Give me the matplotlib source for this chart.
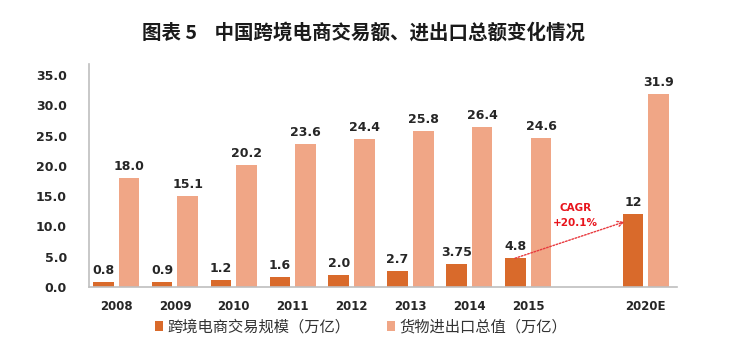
import matplotlib
matplotlib.use("Agg")
import matplotlib.pyplot as plt

years = ["2008", "2009", "2010", "2011", "2012", "2013", "2014", "2015", "2020E"]
positions = [0, 1, 2, 3, 4, 5, 6, 7, 9]
cross_border = [0.8, 0.9, 1.2, 1.6, 2.0, 2.7, 3.75, 4.8, 12]
cross_border_labels = ["0.8", "0.9", "1.2", "1.6", "2.0", "2.7", "3.75", "4.8", "12"]
trade_total = [18.0, 15.1, 20.2, 23.6, 24.4, 25.8, 26.4, 24.6, 31.9]
trade_labels = ["18.0", "15.1", "20.2", "23.6", "24.4", "25.8", "26.4", "24.6", "31.9"]
yticks = [0, 5, 10, 15, 20, 25, 30, 35]
series_names = ["跨境电商交易规模（万亿）", "货物进出口总值（万亿）"]
title = "图表 5    中国跨境电商交易额、进出口总额变化情况"
cagr_text = "CAGR\n+20.1%"

plt.rcParams['font.family'] = ['DejaVu Sans', 'Noto Sans CJK SC']

dark = '#D96A2B'
light = '#F0A686'
bw = 0.35
off = 0.218

fig = plt.figure(figsize=(7.5, 3.5), dpi=100)
ax = fig.add_axes([0.1187, 0.18, 0.9027 - 0.1187, 0.817 - 0.18])

xd = [p - off for p in positions]
xl = [p + off for p in positions]
ax.bar(xd, cross_border, width=bw, color=dark, label=series_names[0], zorder=2)
ax.bar(xl, trade_total, width=bw, color=light, label=series_names[1], zorder=2)

for x, v, s in zip(xd, cross_border, cross_border_labels):
    ax.text(x, v + 0.8, s, ha='center', va='bottom', fontsize=9, fontweight='bold', color='#262626')
for x, v, s in zip(xl, trade_total, trade_labels):
    ax.text(x, v + 0.8, s, ha='center', va='bottom', fontsize=9, fontweight='bold', color='#262626')

ax.set_xlim(-0.46, 9.53)
ax.set_ylim(0, 36.8)
ax.set_yticks(yticks)
ax.set_yticklabels([f"{t:.1f}" for t in yticks], fontsize=9, fontweight='bold', color='#262626')
ax.set_xticks(positions)
ax.set_xticklabels(years, fontsize=8.5, fontweight='bold', color='#262626')
ax.tick_params(length=0)
ax.tick_params(axis='y', pad=16)
ax.tick_params(axis='x', pad=9)
for s in ['top', 'right']:
    ax.spines[s].set_visible(False)
for s in ['left', 'bottom']:
    ax.spines[s].set_color('#BFBFBF')
    ax.spines[s].set_linewidth(1.2)

# CAGR annotation
ax.annotate('', xy=(xd[8] - 0.1, cross_border[8] - 1.1), xytext=(xd[7] - 0.05, cross_border[7] - 0.2),
            arrowprops=dict(arrowstyle='->', color='#E8383D', linestyle=(0, (1.2, 1.2)), lw=1.0))
ax.text(7.81, 11.8, cagr_text, ha='center', va='center', fontsize=7.5, fontweight='bold',
        color='#E8141C', linespacing=1.6)

fig.text(363 / 750, 1 - 33 / 350, title, ha='center', va='center', fontsize=14,
         family=['Noto Sans CJK SC', 'DejaVu Sans'], fontweight='bold', color='#1a1a1a')

fig.legend(loc='center', bbox_to_anchor=(361 / 750, 1 - 327 / 350), ncol=2, frameon=False,
           prop={'family': ['Noto Sans CJK SC', 'DejaVu Sans'], 'size': 11},
           labelcolor='#333333',
           handlelength=0.55, handleheight=0.55, handletextpad=0.25, columnspacing=2.4)

fig.savefig('out.png', dpi=100)
